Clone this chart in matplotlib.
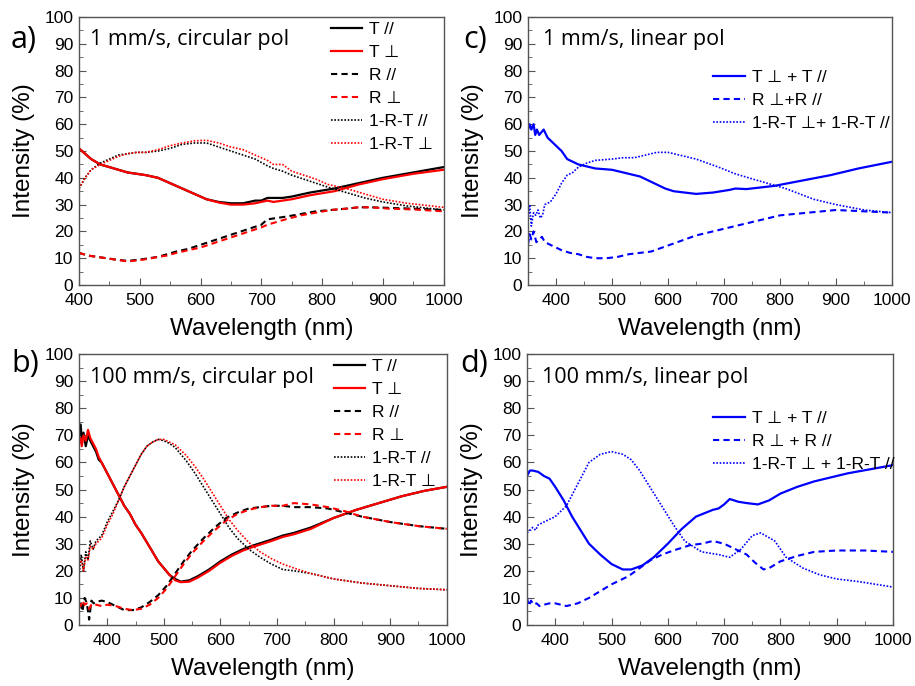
import matplotlib
matplotlib.use("Agg")
import matplotlib.pyplot as plt
from matplotlib.ticker import MultipleLocator

plt.rcParams['font.family'] = ['Liberation Sans', 'DejaVu Sans']

PERP = "\u22a5"

# ---- panel a) 1 mm/s, circular pol ----
a_x_T = [400, 410, 420, 435, 450, 465, 480, 495, 510, 530, 545, 560, 575, 590, 610, 630, 650, 670, 690, 700, 710, 720, 735, 750, 780, 820, 860, 900, 950, 1000]
a_T_par = [51, 49, 47, 45, 44, 43, 42, 41.5, 41, 40, 38.5, 37, 35.5, 34, 32, 31, 30.5, 30.5, 31.5, 31.5, 32.5, 32.5, 32.5, 33, 34.5, 36, 38, 40, 42, 44]
a_T_perp = [51, 49, 47, 45, 44, 43, 42, 41.5, 41, 40, 38.5, 37, 35.5, 34, 32, 30.8, 30, 30, 30.5, 31, 31.5, 31, 31.5, 32, 33.5, 35, 37.5, 39.5, 41.5, 43]
a_x_R = [400, 415, 430, 445, 460, 480, 500, 515, 530, 545, 560, 580, 600, 620, 640, 660, 680, 700, 710, 725, 740, 765, 790, 815, 840, 860, 880, 910, 950, 1000]
a_R_par = [12, 11, 10.5, 10, 9.5, 9, 9.5, 10, 10.5, 11.5, 12.5, 13.5, 15, 16.5, 18, 19.5, 21, 22.5, 24.5, 25, 25.5, 26.5, 27.5, 28, 28.5, 29, 29, 28.8, 28.5, 28]
a_R_perp = [12, 11, 10.5, 10, 9.5, 8.8, 9.3, 9.8, 10.5, 11, 12, 13, 14, 15.5, 17, 18.5, 20, 21.5, 22.5, 23.5, 24.5, 26, 27, 28, 28.5, 29, 29, 28.5, 28.2, 27.5]
a_x_A = [400, 410, 420, 435, 450, 465, 480, 495, 510, 530, 550, 570, 590, 610, 630, 650, 670, 690, 710, 720, 735, 750, 770, 790, 810, 840, 870, 900, 940, 1000]
a_A_par = [36, 40, 43, 45.5, 47, 48.5, 49, 49.5, 49.5, 50, 51, 52.5, 53, 53, 51.5, 50, 48.5, 47, 44.5, 43.5, 42.5, 41, 39.5, 38, 36.5, 34.5, 32.5, 31, 29.5, 28]
a_A_perp = [36, 40, 43, 45, 46.5, 48, 49, 49.5, 49.5, 50.5, 52, 53, 53.8, 54, 53, 51.5, 50.5, 48.5, 46.5, 45, 45, 42.5, 41, 39.5, 37.5, 36, 34, 32, 30.5, 29]

# ---- panel b) 100 mm/s, circular pol ----
b_x_T = [350, 353, 355, 358, 362, 366, 370, 375, 380, 385, 390, 400, 410, 420, 430, 440, 450, 460, 470, 480, 490, 500, 510, 520, 530, 545, 560, 580, 600, 620, 640, 660, 690, 710, 730, 760, 800, 840, 880, 920, 960, 1000]
b_T_par = [70, 74, 68, 71, 66, 70, 68, 66, 64, 61, 60, 56, 52, 48, 44, 41, 37, 34, 30.5, 27, 23.5, 21, 18.5, 17, 16, 16.5, 18, 20.5, 23.5, 26, 28, 29.5, 31.5, 33, 34, 36, 39.5, 42.5, 45, 47.5, 49.5, 51]
b_T_perp = [67, 69, 66, 70, 68, 72, 69, 67, 65, 62, 60, 56, 52, 48, 44, 41, 37, 34, 30.5, 27, 23.5, 21, 18.5, 16.5, 15.8, 16, 17.5, 20, 23, 25.5, 27.5, 29, 31, 32.5, 33.5, 35.5, 39.5, 42.5, 45, 47.5, 49.5, 51]
b_x_R = [350, 353, 356, 360, 364, 368, 372, 376, 380, 390, 400, 415, 430, 445, 460, 475, 490, 505, 520, 535, 550, 570, 590, 610, 630, 650, 670, 690, 710, 730, 760, 790, 820, 850, 900, 950, 1000]
b_R_par = [6, 9, 5, 10, 8, 2, 9, 8, 8.5, 9, 8.5, 7, 5.5, 5.5, 6.5, 8.5, 11, 14.5, 19, 23.5, 27.5, 32, 36, 39.5, 41.5, 43, 43.5, 44, 44, 43.5, 43.5, 43, 41.5, 40, 38, 36.5, 35.5]
b_R_perp = [8, 7, 9, 7.5, 8, 6, 7.5, 8, 7.5, 7, 7.5, 7, 6, 5.5, 6, 7.5, 10, 13.5, 18, 22.5, 26.5, 31, 35, 38.5, 41, 42.5, 43.5, 44, 44, 45, 44.5, 43.5, 42, 40, 38, 36.5, 35.5]
b_x_A = [350, 354, 358, 362, 366, 370, 375, 380, 390, 400, 410, 420, 430, 440, 450, 460, 470, 480, 490, 500, 510, 520, 530, 540, 555, 570, 585, 600, 615, 630, 650, 670, 690, 710, 730, 760, 800, 850, 900, 950, 1000]
b_A_par = [18, 26, 20, 27, 24, 31, 28, 31, 33, 38, 42, 46, 51, 55, 59, 63, 66, 67.5, 68.5, 68, 67, 65.5, 63, 60.5, 56, 51, 46, 41, 36, 32, 28, 25, 22.5, 20.5, 20, 19, 17, 15.5, 14.5, 13.5, 13]
b_A_perp = [22, 24, 20, 25, 24, 29, 28, 30, 32, 37, 41, 46, 51, 55, 59, 63, 66, 67.5, 68.5, 68.5, 67.5, 66.5, 64.5, 62.5, 58.5, 54, 49, 44, 39, 35, 30.5, 27, 24.5, 22.5, 21, 19, 17, 15.5, 14.5, 13.5, 13]

# ---- panel c) 1 mm/s, linear pol ----
c_x_T = [350, 353, 356, 360, 363, 366, 370, 374, 378, 385, 390, 400, 410, 420, 440, 470, 500, 530, 550, 565, 580, 595, 610, 630, 650, 680, 710, 720, 740, 790, 840, 890, 940, 1000]
c_T = [58, 60, 58, 60, 56, 58, 56, 57, 58, 55, 54, 52, 50, 47, 45, 43.5, 43, 41.5, 40.5, 39, 37.5, 36, 35, 34.5, 34, 34.5, 35.5, 36, 35.8, 37, 39, 41, 43.5, 46]
c_x_R = [350, 353, 356, 360, 365, 370, 375, 380, 390, 400, 410, 425, 440, 455, 470, 490, 510, 530, 550, 570, 590, 610, 630, 650, 680, 720, 760, 800, 850, 900, 950, 1000]
c_R = [15, 19, 17, 20, 16, 17, 18, 16, 15, 14, 13, 12, 11.5, 10.5, 10, 10, 10.5, 11.5, 12, 12.5, 14, 15.5, 17, 18.5, 20, 22, 24, 26, 27, 28, 27.5, 27]
c_x_A = [350, 353, 356, 360, 364, 368, 372, 376, 380, 390, 400, 410, 420, 430, 440, 455, 470, 500, 520, 540, 560, 580, 600, 620, 650, 690, 720, 760, 810, 860, 900, 950, 1000]
c_A = [24, 30, 22, 27, 26, 28, 25, 26, 30, 31, 34, 38, 41, 42, 44, 45.5, 46.5, 47, 47.5, 47.5, 48.5, 49.5, 49.5, 48.5, 47, 44, 41.5, 39, 36, 32, 30, 28, 27]

# ---- panel d) 100 mm/s, linear pol ----
d_x_T = [350, 355, 360, 370, 380, 390, 400, 415, 430, 445, 460, 480, 500, 520, 535, 555, 575, 600, 625, 650, 680, 690, 700, 710, 725, 740, 760, 780, 800, 830, 860, 890, 920, 960, 1000]
d_T = [55, 57, 57, 56.5, 55, 54, 51, 46, 40, 35, 30, 26, 22.5, 20.5, 20.5, 22, 25, 30, 35.5, 40, 42.5, 43, 44.5, 46.5, 45.5, 45, 44.5, 46, 48.5, 51, 53, 54.5, 56, 57.5, 59]
d_x_R = [350, 353, 357, 362, 367, 372, 380, 390, 400, 420, 440, 460, 480, 500, 530, 550, 570, 590, 610, 640, 660, 680, 700, 720, 740, 755, 770, 780, 800, 830, 860, 900, 950, 1000]
d_R = [10, 7, 9, 7.5, 8, 7, 7.5, 8, 8, 7, 8, 10, 12.5, 15, 18, 21, 24, 26, 27.5, 29.5, 30, 31, 30, 28, 26, 23, 20.5, 21, 23.5, 25.5, 27, 27.5, 27.5, 27]
d_x_A = [350, 355, 360, 365, 370, 380, 390, 400, 420, 440, 460, 480, 500, 520, 535, 550, 565, 580, 595, 610, 630, 660, 690, 710, 730, 750, 765, 790, 810, 840, 870, 900, 940, 1000]
d_A = [34, 35, 36, 35, 37, 38, 39, 40, 44, 52, 60, 63, 64, 63, 61, 57, 52, 47, 42, 37, 31, 27, 26, 25, 28, 33, 34, 31, 25, 21, 18.5, 17, 16, 14]

fig = plt.figure(figsize=(9.15, 6.86), dpi=100)
ax_a = fig.add_axes([0.0863, 0.5845, 0.3985, 0.3907])
ax_c = fig.add_axes([0.577, 0.5845, 0.398, 0.3907])
ax_b = fig.add_axes([0.0863, 0.0889, 0.4020, 0.395])
ax_d = fig.add_axes([0.576, 0.0889, 0.400, 0.395])

spine_col = "#555555"


def style(ax, xmin):
    ax.set_xlim(xmin, 1000)
    ax.set_ylim(0, 100)
    ax.xaxis.set_major_locator(MultipleLocator(100))
    ax.xaxis.set_minor_locator(MultipleLocator(50))
    ax.yaxis.set_major_locator(MultipleLocator(10))
    ax.yaxis.set_minor_locator(MultipleLocator(5))
    ax.tick_params(which="both", direction="in", top=False, right=False,
                   color=spine_col, labelsize=12.5)
    ax.tick_params(axis="x", pad=6)
    ax.tick_params(axis="y", pad=4)
    ax.tick_params(which="major", length=5)
    ax.tick_params(which="minor", length=3)
    for s in ax.spines.values():
        s.set_color(spine_col)
        s.set_linewidth(1.0)
    ax.set_xlabel("Wavelength (nm)", fontsize=17.5, labelpad=7)
    ax.set_ylabel("Intensity (%)", fontsize=17.5, labelpad=7)


# circular pol panels
for ax, data, note in [
    (ax_a, (a_x_T, a_T_par, a_T_perp, a_x_R, a_R_par, a_R_perp, a_x_A, a_A_par, a_A_perp), "1 mm/s, circular pol"),
    (ax_b, (b_x_T, b_T_par, b_T_perp, b_x_R, b_R_par, b_R_perp, b_x_A, b_A_par, b_A_perp), "100 mm/s, circular pol"),
]:
    xT, Tp, Tn, xR, Rp, Rn, xA, Ap, An = data
    ax.plot(xT, Tp, color="black", lw=1.6, label="T //")
    ax.plot(xT, Tn, color="red", lw=1.6, label="T " + PERP)
    ax.plot(xR, Rp, color="black", lw=1.5, ls=(0, (3, 2)), label="R //")
    ax.plot(xR, Rn, color="red", lw=1.5, ls=(0, (3, 2)), label="R " + PERP)
    ax.plot(xA, Ap, color="black", lw=1.2, ls=(0, (1, 1)), label="1-R-T //")
    ax.plot(xA, An, color="red", lw=1.2, ls=(0, (1, 1)), label="1-R-T " + PERP)
    style(ax, 400 if ax is ax_a else 350)
    ax.text(0.03, 0.915, note, transform=ax.transAxes, fontsize=15.5,
            family=["Open Sans", "DejaVu Sans"], va="center", ha="left")
    ax.legend(loc="upper right", bbox_to_anchor=(1.0, 1.02), frameon=False,
              fontsize=12.5, handlelength=1.8, handletextpad=0.4,
              labelspacing=0.45, borderaxespad=0.2)

# linear pol panels
for ax, xT, T, xR, R, xA, A, note, labs, ypos in [
    (ax_c, c_x_T, c_T, c_x_R, c_R, c_x_A, c_A, "1 mm/s, linear pol",
     ["T " + PERP + " + T //", "R " + PERP + "+R //", "1-R-T " + PERP + "+ 1-R-T //"], 0.83),
    (ax_d, d_x_T, d_T, d_x_R, d_R, d_x_A, d_A, "100 mm/s, linear pol",
     ["T " + PERP + " + T //", "R " + PERP + " + R //", "1-R-T " + PERP + " + 1-R-T //"], 0.815),
]:
    ax.plot(xT, T, color="#0000ff", lw=1.6, label=labs[0])
    ax.plot(xR, R, color="#0000ff", lw=1.5, ls=(0, (3, 2)), label=labs[1])
    ax.plot(xA, A, color="#0000ff", lw=1.2, ls=(0, (1, 1)), label=labs[2])
    style(ax, 350)
    ax.text(0.04, 0.915, note, transform=ax.transAxes, fontsize=15.5,
            family=["Open Sans", "DejaVu Sans"], va="center", ha="left")
    ax.legend(loc="upper left", bbox_to_anchor=(0.49, ypos), frameon=False,
              fontsize=12.5, handlelength=1.8, handletextpad=0.4,
              labelspacing=0.45, borderaxespad=0.0)

# panel letters
for txt, x, y in [("a)", 0.012, 0.942), ("c)", 0.506, 0.942),
                  ("b)", 0.012, 0.47), ("d)", 0.503, 0.47)]:
    fig.text(x, y, txt, fontsize=22, family=["Open Sans", "DejaVu Sans"],
             va="center", ha="left")

fig.savefig("out.png", dpi=100)
